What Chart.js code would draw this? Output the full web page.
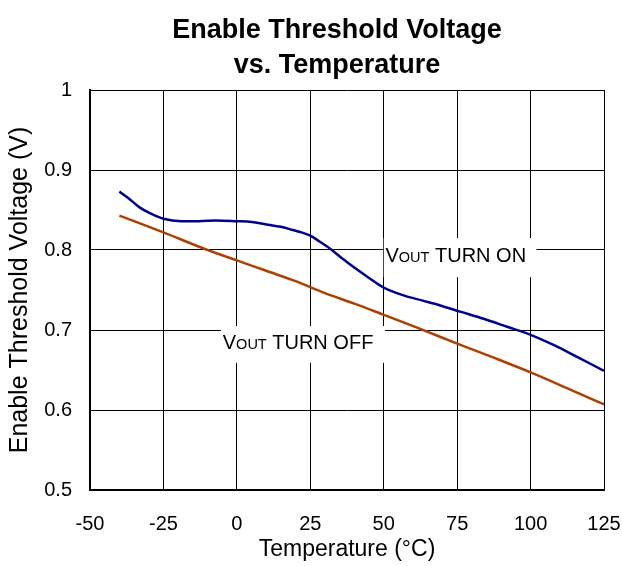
<!DOCTYPE html>
<html>
<head>
<meta charset="utf-8">
<script src="https://cdn.jsdelivr.net/npm/chart.js@4/dist/chart.umd.min.js"></script>
<style>
  body { margin: 0; background: #fff; }
  canvas { display: block; }
</style>
</head>
<body>
<canvas id="chart_temp" width="622" height="566"></canvas>
<script>
let font = 'Liberation Sans, Arial, sans-serif';

// temperature (°C) and enable threshold (V)
let tempOn = [-40, -37, -33, -29.6, -25, -19, -13, -7, 0, 5, 10, 15, 19, 22, 25, 28, 32, 36, 40, 45, 50, 57, 63, 69, 76, 84, 92, 100, 108, 116, 125];
let voltsOn = [0.873, 0.865, 0.853, 0.846, 0.839, 0.836, 0.836, 0.837, 0.836, 0.835, 0.832, 0.829, 0.825, 0.822, 0.818, 0.811, 0.801, 0.789, 0.778, 0.765, 0.753, 0.743, 0.737, 0.731, 0.723, 0.714, 0.704, 0.694, 0.681, 0.666, 0.649];

let tempOff = [-40, -25, -10, 0, 10, 20, 30, 40, 50, 62, 75, 87, 100, 112, 125];
let voltsOff = [0.843, 0.822, 0.800, 0.787, 0.774, 0.761, 0.746, 0.733, 0.719, 0.702, 0.683, 0.666, 0.647, 0.628, 0.607];

let xTicks = [-50, -25, 0, 25, 50, 75, 100, 125];
let yTicks = [0.5, 0.6, 0.7, 0.8, 0.9, 1];

let titleLines = ['Enable Threshold Voltage', 'vs. Temperature'];

// in-plot labels: [main, subscript, rest, box x0, box x1, box yTop, box yBottom, text x, text baseline y] in data units
let curveLabels = [
    ['V', 'OUT', ' TURN ON', 50, 102, 0.815, 0.766, 50.6, 0.785],
    ['V', 'OUT', ' TURN OFF', -5.4, 50.4, 0.705, 0.659, -4.8, 0.676]
];

let toPoints = (xs, ys) => xs.map((x, i) => ({ x: x, y: ys[i] }));

let labelPlugin = {
    id: 'labels',
    afterDatasetsDraw(chart) {
        let c = chart.ctx;
        let sx = chart.scales.x, sy = chart.scales.y;
        c.save();
        curveLabels.forEach(l => {
            let x0 = sx.getPixelForValue(l[3]), x1 = sx.getPixelForValue(l[4]);
            let y0 = sy.getPixelForValue(l[5]), y1 = sy.getPixelForValue(l[6]);
            c.fillStyle = '#fff';
            c.fillRect(x0, y0, x1 - x0, y1 - y0);
            let tx = sx.getPixelForValue(l[7]), ty = sy.getPixelForValue(l[8]);
            c.fillStyle = '#000';
            c.textBaseline = 'alphabetic';
            c.textAlign = 'left';
            c.font = '20px ' + font;
            c.fillText(l[0], tx, ty);
            tx += c.measureText(l[0]).width;
            c.font = '14.5px ' + font;
            c.fillText(l[1], tx, ty);
            tx += c.measureText(l[1]).width;
            c.font = '20px ' + font;
            c.fillText(l[2], tx, ty);
        });
        c.restore();
    }
};

let titlePlugin = {
    id: 'twoLineTitle',
    afterDraw(chart) {
        let c = chart.ctx;
        c.save();
        c.fillStyle = '#000';
        c.font = 'bold 27px ' + font;
        c.textAlign = 'center';
        c.textBaseline = 'alphabetic';
        c.fillText(titleLines[0], 337, 38);
        c.fillText(titleLines[1], 337, 73);
        c.restore();
    }
};

let ctx_temp = document.getElementById('chart_temp');

let chart_temp = new Chart(ctx_temp, {
    type: 'line',
    data: {
        datasets: [{
            label: 'VOUT TURN ON',
            data: toPoints(tempOn, voltsOn),
            borderColor: '#000090',
            borderWidth: 2.5,
            pointRadius: 0,
            fill: false,
            cubicInterpolationMode: 'monotone'
        }, {
            label: 'VOUT TURN OFF',
            data: toPoints(tempOff, voltsOff),
            borderColor: '#B04000',
            borderWidth: 2.5,
            pointRadius: 0,
            fill: false,
            cubicInterpolationMode: 'monotone'
        }]
    },
    options: {
        responsive: false,
        maintainAspectRatio: false,
        animation: false,
        layout: { padding: { top: 90, right: 18, left: 0, bottom: 0 } },
        plugins: {
            legend: { display: false },
            tooltip: { enabled: false }
        },
        scales: {
            x: {
                type: 'linear',
                min: xTicks[0],
                max: xTicks[xTicks.length - 1],
                afterBuildTicks: s => { s.ticks = xTicks.map(v => ({ value: v })); },
                afterFit: s => { s.height = 76; s.paddingLeft = 0; s.paddingRight = 0; },
                ticks: {
                    color: '#000',
                    font: { family: font, size: 20 },
                    padding: 22,
                    maxRotation: 0,
                    callback: v => String(v)
                },
                grid: { color: '#000', lineWidth: 1, drawTicks: false },
                border: { color: '#000', width: 2 },
                title: {
                    display: true,
                    text: 'Temperature (°C)',
                    color: '#000',
                    font: { family: font, size: 23 },
                    padding: { top: 0, bottom: 3 }
                }
            },
            y: {
                type: 'linear',
                min: yTicks[0],
                max: yTicks[yTicks.length - 1],
                afterBuildTicks: s => { s.ticks = yTicks.map(v => ({ value: v })); },
                afterFit: s => { s.width = 90; s.paddingTop = 0; s.paddingBottom = 0; },
                ticks: {
                    color: '#000',
                    font: { family: font, size: 20 },
                    padding: 18,
                    callback: v => String(Number(v.toFixed(1)))
                },
                grid: { color: '#000', lineWidth: 1, drawTicks: false },
                border: { color: '#000', width: 2 },
                title: {
                    display: true,
                    text: 'Enable Threshold Voltage (V)',
                    color: '#000',
                    font: { family: font, size: 25 },
                    padding: { top: 5, bottom: 0 }
                }
            }
        }
    },
    plugins: [labelPlugin, titlePlugin]
});
</script>
</body>
</html>
